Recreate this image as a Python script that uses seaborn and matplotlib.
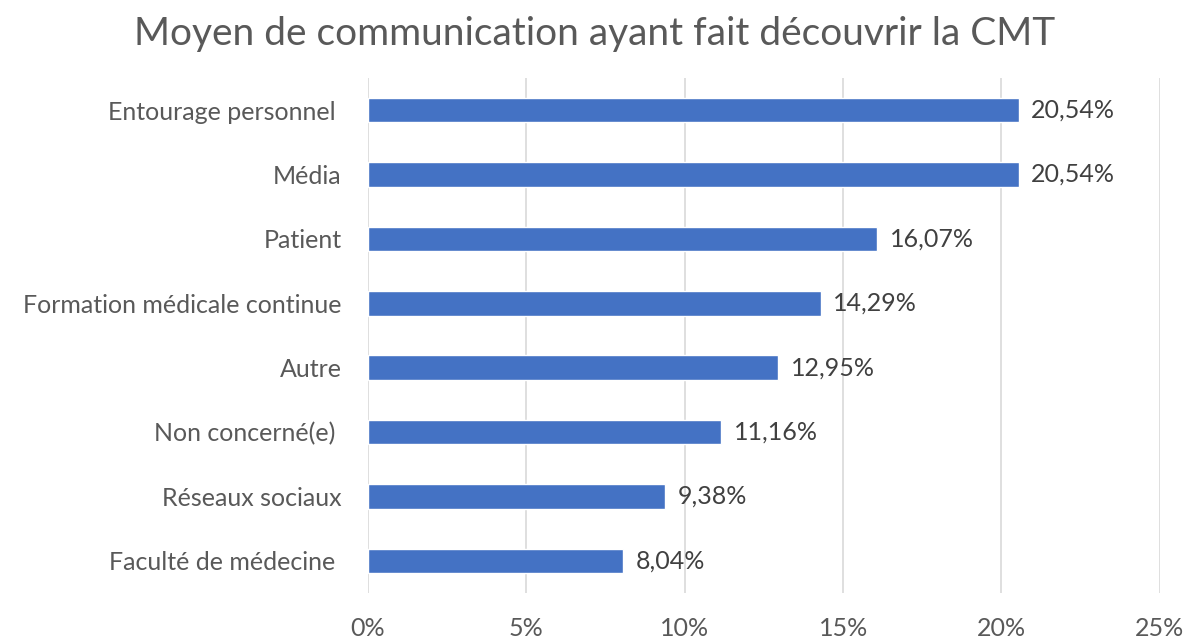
import matplotlib
matplotlib.use('Agg')
import matplotlib.pyplot as plt
import seaborn as sns
import pandas as pd
from matplotlib.ticker import FuncFormatter

categories = ['Entourage personnel ', 'Média', 'Patient', 'Formation médicale continue',
              'Autre', 'Non concerné(e) ', 'Réseaux sociaux', 'Faculté de médecine ']
values = [20.54, 20.54, 16.07, 14.29, 12.95, 11.16, 9.38, 8.04]

df = pd.DataFrame({'cat': categories, 'val': values})

sns.set_style('white')
plt.rcParams['font.family'] = ['Lato', 'DejaVu Sans']

fig = plt.figure(figsize=(11.89, 6.39), dpi=100)
ax = fig.add_axes([0.3095, 0.072, 0.666, 0.806])

sns.barplot(data=df, x='val', y='cat', color='#4472C4', width=0.38, ax=ax, saturation=1)

ax.set_xlim(0, 25)
ax.set_ylim(7.5, -0.5)
ax.set_xticks([0, 5, 10, 15, 20, 25])
ax.xaxis.set_major_formatter(FuncFormatter(lambda v, p: f'{int(v)}%'))
ax.grid(axis='x', color='#D9D9D9', linewidth=1.2)
ax.set_axisbelow(True)
for s in ax.spines.values():
    s.set_visible(False)
ax.tick_params(axis='both', length=0, labelsize=18, colors='#595959')
ax.tick_params(axis='x', pad=17)
ax.tick_params(axis='y', pad=19)
ax.set_xlabel('')
ax.set_ylabel('')

for i, v in enumerate(values):
    ax.text(v + 0.4, i, f'{v:.2f}%'.replace('.', ','), va='center', ha='left',
            fontsize=18, color='#404040')

fig.suptitle('Moyen de communication ayant fait découvrir la CMT', x=0.5, y=0.975,
             fontsize=28, color='#595959')

fig.savefig('out.png', dpi=100)
